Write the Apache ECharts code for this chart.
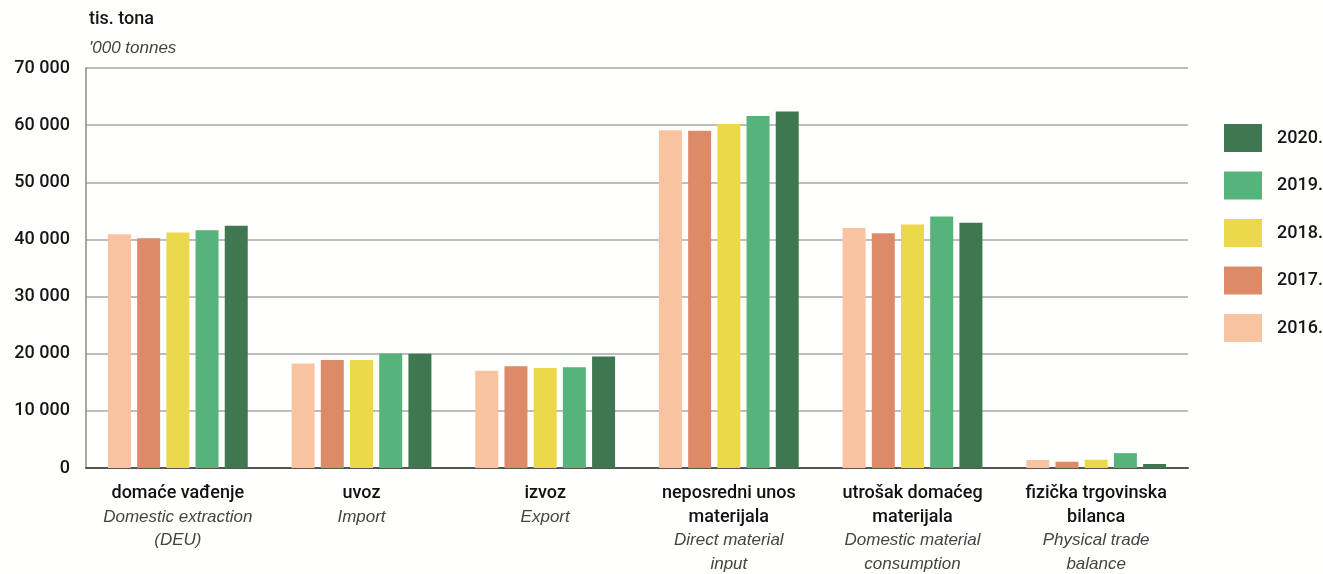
<!DOCTYPE html>
<html>
<head>
<meta charset="utf-8">
<script src="https://cdn.jsdelivr.net/npm/echarts@6/dist/echarts.min.js"></script>
<style>
  html, body { margin: 0; padding: 0; background: #fffffd; }
  #chart { width: 1323px; height: 574px; }
</style>
</head>
<body>
<div id="chart"></div>
<script>
const categoriesHr = ['domaće vađenje', 'uvoz', 'izvoz', 'neposredni unos\nmaterijala', 'utrošak domaćeg\nmaterijala', 'fizička trgovinska\nbilanca'];
const categoriesEn = ['Domestic extraction\n(DEU)', 'Import', 'Export', 'Direct material\ninput', 'Domestic material\nconsumption', 'Physical trade\nbalance'];
const years = ['2016.', '2017.', '2018.', '2019.', '2020.'];
const values2016 = [40900, 18300, 17000, 59100, 42000, 1400];
const values2017 = [40200, 18900, 17800, 59000, 41100, 1100];
const values2018 = [41200, 18900, 17500, 60200, 42600, 1450];
const values2019 = [41600, 20050, 17650, 61600, 44000, 2600];
const values2020 = [42400, 20000, 19500, 62400, 42900, 700];
const yTicks = [0, 10000, 20000, 30000, 40000, 50000, 60000, 70000];
const legendOrder = ['2020.', '2019.', '2018.', '2017.', '2016.'];

const colors = ['#f8c3a0', '#dd8a69', '#ebd84b', '#56b37a', '#3f7850'];
const seriesValues = [values2016, values2017, values2018, values2019, values2020];
const FONT = "'Liberation Sans', Arial, sans-serif";
const FONT_B = "Roboto, 'Liberation Sans', Arial, sans-serif";

const chart = echarts.init(document.getElementById('chart'), null, { renderer: 'canvas' });

function fmtThousands(v) {
  return String(v).replace(/\B(?=(\d{3})+(?!\d))/g, ' ');
}

const option = {
  backgroundColor: '#fffffd',
  animation: false,
  title: [
    { text: 'tis. tona', left: 84, top: 5, textStyle: { fontFamily: FONT_B, fontSize: 18, fontWeight: 500, color: '#161616' } },
    { text: "'000 tonnes", left: 84, top: 35, textStyle: { fontFamily: FONT, fontSize: 17, fontStyle: 'italic', fontWeight: 'normal', color: '#444' } }
  ],
  legend: {
    orient: 'vertical',
    left: 1219,
    top: 119,
    itemWidth: 38,
    itemHeight: 28,
    itemGap: 19.5,
    icon: 'rect',
    data: legendOrder,
    formatter: '{a|{name}}',
    textStyle: {
      fontFamily: FONT_B, fontSize: 18, fontWeight: 500, color: '#161616',
      rich: { a: { fontFamily: FONT_B, fontSize: 18, fontWeight: 500, color: '#161616', padding: [0, 0, 0, 10] } }
    }
  },
  grid: { left: 86, right: 135, top: 68, bottom: 106, containLabel: false },
  xAxis: {
    type: 'category',
    data: categoriesHr.map((c, i) => c + '|' + categoriesEn[i]),
    axisLine: { show: true, lineStyle: { color: '#555', width: 2 } },
    axisTick: { show: false },
    axisLabel: {
      interval: 0,
      margin: 14,
      formatter: function (val) {
        const parts = val.split('|');
        const hr = parts[0].split('\n').map(s => '{b|' + s + '}');
        const en = parts[1].split('\n').map(s => '{i|' + s + '}');
        return hr.concat(en).join('\n');
      },
      rich: {
        b: { fontFamily: FONT_B, fontSize: 18, fontWeight: 500, color: '#111', lineHeight: 23.4 },
        i: { fontFamily: FONT, fontSize: 17, fontStyle: 'italic', color: '#444', lineHeight: 23.4 }
      }
    }
  },
  yAxis: {
    type: 'value',
    min: 0,
    max: 70000,
    interval: 10000,
    axisLine: { show: true, lineStyle: { color: '#888', width: 1.5 } },
    axisTick: { show: false },
    splitLine: { show: true, lineStyle: { color: '#a8a8a8', width: 1.5 } },
    axisLabel: {
      margin: 16,
      fontFamily: FONT_B,
      fontSize: 18,
      fontWeight: 500,
      color: '#161616',
      customValues: yTicks,
      formatter: v => fmtThousands(v)
    }
  },
  series: years.map((y, i) => ({
    name: y,
    type: 'bar',
    data: seriesValues[i],
    barWidth: 23,
    barGap: '27%',
    itemStyle: { color: colors[i] }
  }))
};

chart.setOption(option);
</script>
</body>
</html>
